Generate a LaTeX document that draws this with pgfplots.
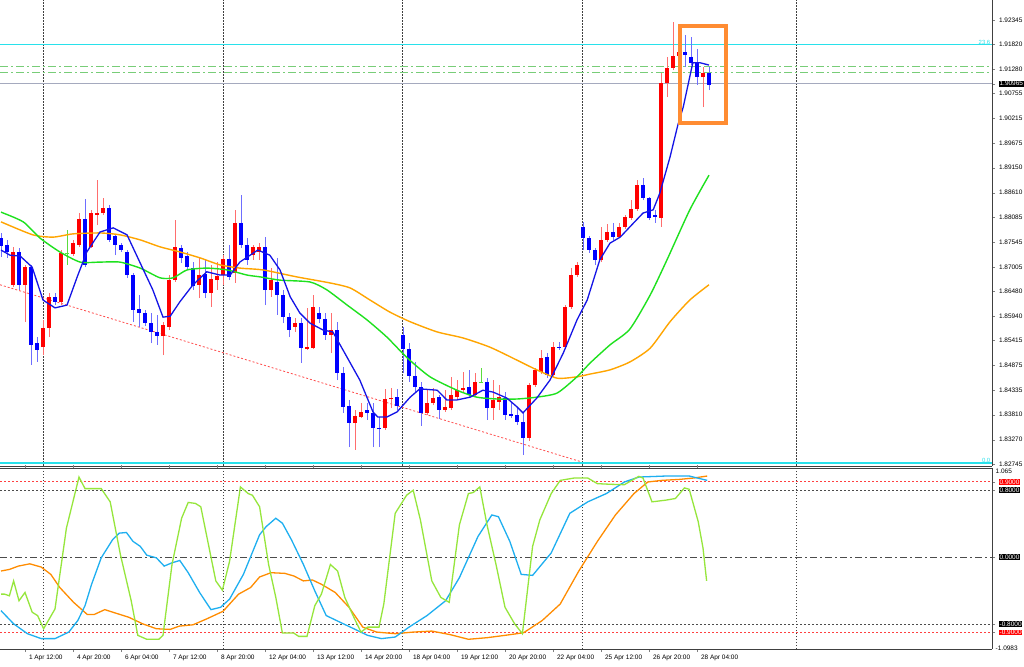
\documentclass[border=0pt]{standalone}
\usepackage{pgfplots}
\pgfplotsset{compat=1.18}
\usepackage{pgfplotstable}
\usepackage{fontspec}
\setmainfont{Liberation Sans}

\definecolor{bull}{RGB}{255,0,0}
\definecolor{bear}{RGB}{0,0,255}
\definecolor{bullwick}{RGB}{255,110,110}
\definecolor{bearwick}{RGB}{110,110,255}
\definecolor{doji}{RGB}{90,220,60}
\definecolor{maBlue}{RGB}{20,20,230}
\definecolor{maGreen}{RGB}{30,225,30}
\definecolor{maOrange}{RGB}{255,165,0}
\definecolor{fibo}{RGB}{40,225,235}
\definecolor{fiboGreen}{RGB}{120,205,120}
\definecolor{priceLine}{RGB}{165,170,190}
\definecolor{oscGreen}{RGB}{150,230,60}
\definecolor{oscBlue}{RGB}{30,175,240}
\definecolor{oscOrange}{RGB}{255,140,0}
\definecolor{boxOrange}{RGB}{255,140,50}

\newcommand\lbl[2]{{\setlength\fboxsep{0.6bp}\colorbox{#1}{\textcolor{white}{#2}}}}

% H4 candles, k = bar number
\pgfplotstableread{
k o h l c
2 1.8662 1.8744 1.8657 1.8733
4 1.8662 1.8705 1.8582 1.8700
7 1.8527 1.8586 1.8510 1.8569
8 1.8569 1.8644 1.8549 1.8636
10 1.8625 1.8737 1.8618 1.8731
12 1.8729 1.8759 1.8724 1.8752
13 1.8748 1.8817 1.8744 1.8804
15 1.8744 1.8824 1.8742 1.8817
16 1.8813 1.8889 1.8791 1.8817
17 1.8817 1.8850 1.8813 1.8828
27 1.8551 1.8582 1.8510 1.8575
28 1.8571 1.8683 1.8564 1.8672
29 1.8672 1.8802 1.8668 1.8744
33 1.8662 1.8722 1.8633 1.8683
35 1.8644 1.8705 1.8614 1.8674
36 1.8672 1.8711 1.8651 1.8681
37 1.8683 1.8726 1.8662 1.8718
39 1.8687 1.8824 1.8666 1.8796
42 1.8726 1.8748 1.8716 1.8744
43 1.8733 1.8752 1.8716 1.8744
45 1.8651 1.8698 1.8636 1.8672
49 1.8571 1.8590 1.8560 1.8579
51 1.8523 1.8612 1.8521 1.8527
52 1.8525 1.8640 1.8523 1.8614
55 1.8553 1.8601 1.8514 1.8564
59 1.8363 1.8391 1.8305 1.8378
60 1.8376 1.8406 1.8374 1.8387
64 1.8352 1.8437 1.8348 1.8415
65 1.8415 1.8439 1.8396 1.8417
71 1.8385 1.8434 1.8380 1.8406
72 1.8406 1.8439 1.8402 1.8417
74 1.8391 1.8434 1.8387 1.8398
75 1.8396 1.8463 1.8391 1.8424
76 1.8419 1.8456 1.8413 1.8434
77 1.8434 1.8473 1.8430 1.8439
79 1.8424 1.8471 1.8419 1.8452
82 1.8396 1.8456 1.8370 1.8413
83 1.8409 1.8445 1.8391 1.8419
88 1.8331 1.8450 1.8324 1.8445
89 1.8445 1.8482 1.8441 1.8478
90 1.8473 1.8521 1.8469 1.8504
92 1.8467 1.8538 1.8463 1.8527
94 1.8527 1.8618 1.8523 1.8614
95 1.8614 1.8698 1.8610 1.8683
96 1.8683 1.8711 1.8679 1.8705
100 1.8716 1.8787 1.8711 1.8759
101 1.8759 1.8793 1.8755 1.8776
103 1.8765 1.8796 1.8763 1.8787
104 1.8787 1.8813 1.8783 1.8809
105 1.8806 1.8845 1.8802 1.8826
106 1.8826 1.8889 1.8822 1.8878
110 1.8806 1.9120 1.8787 1.9098
111 1.9098 1.9155 1.9068 1.9131
112 1.9131 1.9230 1.9126 1.9157
113 1.9157 1.9213 1.9152 1.9165
117 1.9111 1.9133 1.9046 1.9120
}\bulltab

\pgfplotstableread{
k o h l c
0 1.8763 1.8774 1.8722 1.8746
1 1.8748 1.8759 1.8720 1.8733
3 1.8733 1.8742 1.8651 1.8662
5 1.8700 1.8705 1.8489 1.8532
6 1.8536 1.8549 1.8495 1.8521
9 1.8636 1.8644 1.8618 1.8625
14 1.8804 1.8847 1.8700 1.8705
18 1.8828 1.8834 1.8755 1.8759
19 1.8767 1.8772 1.8726 1.8748
20 1.8748 1.8752 1.8733 1.8737
21 1.8733 1.8737 1.8677 1.8683
22 1.8683 1.8687 1.8582 1.8607
23 1.8610 1.8640 1.8571 1.8601
24 1.8601 1.8607 1.8573 1.8579
25 1.8579 1.8601 1.8536 1.8560
26 1.8560 1.8597 1.8532 1.8551
30 1.8742 1.8748 1.8709 1.8720
31 1.8724 1.8733 1.8694 1.8700
32 1.8698 1.8711 1.8651 1.8659
34 1.8685 1.8716 1.8633 1.8644
38 1.8718 1.8748 1.8672 1.8679
40 1.8796 1.8856 1.8742 1.8748
41 1.8748 1.8763 1.8705 1.8716
44 1.8744 1.8765 1.8618 1.8651
46 1.8668 1.8720 1.8597 1.8640
47 1.8640 1.8651 1.8579 1.8592
48 1.8592 1.8601 1.8549 1.8564
50 1.8579 1.8590 1.8493 1.8525
53 1.8601 1.8614 1.8579 1.8588
54 1.8588 1.8601 1.8543 1.8553
56 1.8564 1.8582 1.8456 1.8471
57 1.8471 1.8484 1.8385 1.8398
58 1.8400 1.8413 1.8311 1.8363
61 1.8391 1.8406 1.8370 1.8385
62 1.8385 1.8406 1.8311 1.8352
63 1.8352 1.8376 1.8311 1.8350
66 1.8419 1.8437 1.8391 1.8400
67 1.8553 1.8571 1.8471 1.8523
68 1.8523 1.8536 1.8452 1.8465
69 1.8465 1.8495 1.8430 1.8441
70 1.8441 1.8452 1.8357 1.8385
73 1.8419 1.8424 1.8372 1.8391
78 1.8441 1.8478 1.8419 1.8424
81 1.8452 1.8460 1.8370 1.8396
84 1.8417 1.8430 1.8370 1.8380
85 1.8383 1.8406 1.8374 1.8378
86 1.8380 1.8396 1.8359 1.8365
87 1.8365 1.8385 1.8294 1.8331
91 1.8506 1.8514 1.8460 1.8467
93 1.8527 1.8538 1.8521 1.8525
97 1.8787 1.8798 1.8737 1.8763
98 1.8763 1.8767 1.8731 1.8737
99 1.8737 1.8742 1.8705 1.8716
102 1.8776 1.8796 1.8759 1.8765
107 1.8878 1.8893 1.8845 1.8850
108 1.8850 1.8852 1.8802 1.8806
109 1.8813 1.8824 1.8796 1.8809
114 1.9165 1.9202 1.9133 1.9159
115 1.9155 1.9198 1.9137 1.9142
116 1.9142 1.9172 1.9094 1.9111
118 1.9120 1.9133 1.9083 1.9094
}\beartab

\pgfplotstableread{
k o h l c
11 1.8731 1.8780 1.8705 1.8731
80 1.8452 1.8482 1.8450 1.8452
}\dojitab

% one wick and one body per row of a candle table
\newcommand\candles[3]{%
  \pgfplotstablegetrowsof{#1}%
  \pgfmathtruncatemacro\nrows{\pgfplotsretval-1}%
  \pgfplotsforeachungrouped \i in {0,...,\nrows}{%
    \pgfplotstablegetelem{\i}{k}\of#1\let\ck\pgfplotsretval
    \pgfplotstablegetelem{\i}{o}\of#1\let\co\pgfplotsretval
    \pgfplotstablegetelem{\i}{h}\of#1\let\ch\pgfplotsretval
    \pgfplotstablegetelem{\i}{l}\of#1\let\cl\pgfplotsretval
    \pgfplotstablegetelem{\i}{c}\of#1\let\cc\pgfplotsretval
    \edef\next{\noexpand\addplot[#2, line width=1bp, forget plot] coordinates {(\ck,\cl) (\ck,\ch)};%
      \noexpand\addplot[#3, line width=3.6bp, forget plot] coordinates {(\ck,\co) (\ck,\cc)};}%
    \next
  }%
}

\tikzset{sep/.style={dash pattern=on 1.5bp off 1.5bp, black!75, line width=0.8bp}}
\pgfplotsset{
  mt/.style={scale only axis, width=992bp, xmin=-0.167, xmax=165.167,
    tick label style={font=\fontsize{6.5}{7}\selectfont},
    tick align=outside, major tick length=3bp,
    axis line style={black!75, line width=0.8bp}},
}

\begin{document}
\begin{tikzpicture}[x=1bp,y=1bp]
\fill[white] (0,0) rectangle (1024,667);
\clip (0,0) rectangle (1024,667);
% absolute corners of the two windows
\coordinate (mainSW) at (0,201);
\coordinate (subSW) at (0,17.8);

% ---------------- price window ----------------
\begin{axis}[mt, name=main, at={(mainSW)}, anchor=south west, height=466bp,
  y coord trafo/.code={\pgfmathparse{(#1-1.8774)*20}},
  y coord inv trafo/.code={\pgfmathparse{#1/20+1.8774}},
  ymin=1.82701, ymax=1.92777,
  axis x line*=bottom, axis y line*=right,
  xtick=\empty,
  extra x ticks={7,37,66.85,96.85,132.5}, extra x tick labels={},
  extra x tick style={grid=major, major grid style={sep}, tick style={draw=none}},
  ytick={1.82745,1.83270,1.83810,1.84335,1.84875,1.85415,1.85940,1.86480,1.87005,1.87545,1.88085,1.88610,1.89150,1.89675,1.90215,1.90755,1.90965,1.91280,1.91820,1.92345},
  yticklabels={1.82745,1.83270,1.83810,1.84335,1.84875,1.85415,1.85940,1.86480,1.87005,1.87545,1.88085,1.88610,1.89150,1.89675,1.90215,1.90755,{\lbl{black}{1.90965}},1.91280,1.91820,1.92345},
  yticklabel style={anchor=west, xshift=0.5bp},
]
\addplot[fibo, line width=1bp] coordinates {(-0.167,1.91804) (165.167,1.91804)};
\addplot[fibo, line width=2bp] coordinates {(-0.167,1.82766) (165.167,1.82766)};
\addplot[fiboGreen, line width=0.9bp, dash pattern=on 8bp off 3bp on 2bp off 3bp] coordinates {(-0.167,1.9135) (165.167,1.9135)};
\addplot[fiboGreen, line width=0.9bp, dash pattern=on 8bp off 3bp on 2bp off 3bp] coordinates {(-0.167,1.9122) (165.167,1.9122)};
\addplot[priceLine, line width=1bp] coordinates {(-0.167,1.90965) (165.167,1.90965)};
\addplot[red!70, line width=0.8bp, dash pattern=on 2bp off 2bp] coordinates {(-0.167,1.8662) (96.5,1.8280)};

\candles{\bulltab}{bullwick}{bull}
\candles{\beartab}{bearwick}{bear}
\candles{\dojitab}{doji}{doji}
\addplot[only marks, mark=-, mark size=1.8bp, doji] table[x=k, y=c] {\dojitab};

\addplot[maOrange, line width=1.4bp, smooth, tension=0.4] coordinates {
(0,1.8798) (5.3,1.8770) (8.7,1.8765) (12,1.8772) (16.5,1.8774) (19.8,1.8770)
(23.2,1.8759) (26.5,1.8744) (29.8,1.8733) (33.2,1.8720) (36.5,1.8705) (39.8,1.8698)
(43.7,1.8694) (49.3,1.8679) (54.8,1.8666) (58.2,1.8655) (61.5,1.8629) (64.8,1.8603)
(68.2,1.8582) (72.7,1.8560) (77,1.8547) (81.5,1.8527) (86,1.8499) (89.3,1.8478)
(92.7,1.8460) (96,1.8463) (98.2,1.8469) (101.5,1.8478) (104.8,1.8495) (108.2,1.8525)
(111.5,1.8582) (114.8,1.8629) (118,1.8662)};
\addplot[maGreen, line width=1.4bp, smooth, tension=0.4] coordinates {
(0,1.8819) (3.7,1.8798) (6.5,1.8763) (9.8,1.8733) (13.2,1.8711) (16.5,1.8711)
(19.8,1.8711) (23.2,1.8698) (26.5,1.8677) (28.7,1.8677) (31,1.8694) (34.3,1.8698)
(37.7,1.8694) (41,1.8683) (43.2,1.8679) (46.5,1.8672) (51.5,1.8668) (54.3,1.8651)
(57.7,1.8618) (61,1.8586) (64.3,1.8549) (67.7,1.8504) (71.5,1.8463) (76,1.8434)
(79.3,1.8419) (82.7,1.8415) (86,1.8415) (89.3,1.8419) (92.7,1.8428) (96,1.8463)
(98.2,1.8493) (101.5,1.8532) (104.8,1.8566) (108.2,1.8640) (111,1.8716)
(114.8,1.8824) (118,1.8899)};
\addplot[maBlue, line width=1.3bp] coordinates {
(0,1.8737) (1.5,1.8726) (3.2,1.8724) (5.2,1.8700) (7,1.8629) (9,1.8612) (11,1.8618)
(12.7,1.8679) (14.3,1.8733) (16.5,1.8776) (18.7,1.8785) (21,1.8770) (23.2,1.8709)
(25.3,1.8651) (27,1.8592) (28.2,1.8594) (29.8,1.8625) (32,1.8662) (34.3,1.8690)
(36.5,1.8683) (38.2,1.8683) (39.8,1.8711) (42.8,1.8737) (44.8,1.8726) (46.5,1.8694)
(48.2,1.8636) (49.8,1.8601) (51.5,1.8579) (53.7,1.8564) (55.3,1.8560) (57,1.8521)
(59.8,1.8456) (62,1.8387) (62.8,1.8376) (64.3,1.8376) (66,1.8387) (68.2,1.8419)
(69.8,1.8437) (72.7,1.8434) (74.3,1.8413) (76,1.8413) (78.2,1.8419) (80.3,1.8434)
(82,1.8430) (84.3,1.8417) (86,1.8398) (87,1.8385) (89.3,1.8417) (91.5,1.8456)
(93.7,1.8514) (96,1.8586) (97.7,1.8629) (99.8,1.8716) (101.5,1.8752) (103.2,1.8765)
(104.8,1.8787) (107,1.8817) (108.7,1.8824) (109.8,1.8860) (111.5,1.8938)
(112.8,1.9007) (113.7,1.9046) (115.3,1.9142) (116.5,1.9142) (118,1.9137)};
\draw[boxOrange, line width=3.5bp] (axis cs:113.2,1.92215) rectangle (axis cs:120.8,1.90118);
\node[fibo, font=\fontsize{6}{7}\selectfont, anchor=south east, inner sep=0.5bp] at (axis cs:165,1.91804) {23.6};
\node[fibo, font=\fontsize{6}{7}\selectfont, anchor=south east, inner sep=0.5bp] at (axis cs:165,1.82766) {0.0};
\end{axis}

% ---------------- oscillator window ----------------
\begin{axis}[mt, name=sub, at={(subSW)}, anchor=south west, height=181.2bp,
  ymin=-1.0983, ymax=1.065,
  axis x line*=box, axis y line*=right,
  xtick={-4,4,12,20,28,36,44,52,60,68,76,84,92,100,108,116},
  xticklabels={31 Mar 04:00,1 Apr 12:00,4 Apr 20:00,6 Apr 04:00,7 Apr 12:00,8 Apr 20:00,12 Apr 04:00,13 Apr 12:00,14 Apr 20:00,18 Apr 04:00,19 Apr 12:00,20 Apr 20:00,22 Apr 04:00,25 Apr 12:00,26 Apr 20:00,28 Apr 04:00},
  xticklabel style={anchor=north west, xshift=0.5bp, yshift=1bp},
  extra x ticks={7,37,66.85,96.85,132.5}, extra x tick labels={},
  extra x tick style={grid=major, major grid style={sep}, tick style={draw=none}},
  ytick={-0.9,-0.8,0,0.8,0.9},
  yticklabels={{\lbl{red}{-0.9000}},{\lbl{black}{-0.8000}},{\lbl{black}{0.0000}},{\lbl{black}{0.8000}},{\lbl{red}{0.9000}}},
  yticklabel style={anchor=west, xshift=0.5bp},
]
\addplot[red!75, line width=0.8bp, dash pattern=on 2bp off 2bp] coordinates {(-0.167,0.9) (165.167,0.9)};
\addplot[red!75, line width=0.8bp, dash pattern=on 2bp off 2bp] coordinates {(-0.167,-0.9) (165.167,-0.9)};
\addplot[black!70, line width=0.8bp, dash pattern=on 2bp off 2bp] coordinates {(-0.167,0.8) (165.167,0.8)};
\addplot[black!70, line width=0.8bp, dash pattern=on 2bp off 2bp] coordinates {(-0.167,-0.8) (165.167,-0.8)};
\addplot[black!70, line width=0.8bp, dash pattern=on 7bp off 3bp on 2bp off 3bp] coordinates {(-0.167,0) (165.167,0)};

\addplot[oscOrange, line width=1.3bp] coordinates {
(0,-0.165) (1.4,-0.146) (2.9,-0.106) (4.8,-0.079) (6.7,-0.118) (8.3,-0.205) (9.8,-0.362)
(12.1,-0.539) (14.4,-0.685) (15.5,-0.685) (17.3,-0.626) (19,-0.665) (21.3,-0.717)
(23.6,-0.795) (25.9,-0.854) (28.2,-0.862) (29.7,-0.823) (32,-0.807) (34.3,-0.736)
(37,-0.646) (39.6,-0.441) (41.6,-0.362) (43.1,-0.236) (45,-0.185) (47.3,-0.193)
(48.8,-0.224) (50.4,-0.283) (51.9,-0.272) (53.4,-0.323) (55.7,-0.421) (58,-0.598)
(60.3,-0.835) (62.6,-0.894) (65.7,-0.913) (68.7,-0.894) (71.8,-0.882) (74.9,-0.925)
(77.9,-0.980) (81,-0.961) (84,-0.933) (87.1,-0.902) (90.2,-0.756) (93.2,-0.559)
(96.3,-0.165) (99.4,0.189) (102.4,0.504) (105.5,0.760) (107.8,0.898) (110.1,0.917)
(113.1,0.929) (115.4,0.945) (117.7,0.969)};
\addplot[oscBlue, line width=1.3bp] coordinates {
(0,-0.638) (2.1,-0.795) (4.4,-0.913) (6.7,-0.972) (9,-0.972) (11.3,-0.894) (12.8,-0.756)
(14,-0.579) (15.1,-0.323) (16.7,-0.008) (18.6,0.209) (19.7,0.287) (20.9,0.295)
(22,0.189) (23.2,0.130) (24.3,0.024) (25.9,-0.008) (27.2,-0.106) (28.5,-0.067)
(29.8,-0.039) (31.2,-0.185) (33.1,-0.421) (35,-0.626) (36.6,-0.598) (38.1,-0.5)
(40.4,-0.205) (43.1,0.268) (44.2,0.366) (45.8,0.465) (46.9,0.406) (48.4,0.209)
(50.4,-0.087) (52.3,-0.402) (54.2,-0.697) (56.5,-0.776) (58.8,-0.854) (61.1,-0.933)
(63.4,-0.972) (65.7,-0.953) (68,-0.835) (71,-0.697) (74.1,-0.520) (76.4,-0.244)
(79.5,0.248) (81.8,0.504) (82.9,0.484) (84.8,0.189) (86.7,-0.205) (88.6,-0.217)
(91.7,0.051) (94.8,0.524) (97.8,0.661) (100.9,0.760) (103.9,0.898) (106.3,0.957)
(110.8,0.969) (114.7,0.969) (117.7,0.917)};
\addplot[oscGreen, line width=1.3bp] coordinates {
(0,-0.441) (0.6,-0.441) (1.4,-0.461) (2.1,-0.283) (3,-0.520) (4,-0.421) (5.2,-0.657)
(6.1,-0.697) (7.1,-0.854) (9,-0.618) (10.9,0.346) (13,0.957) (14,0.819) (16.7,0.819)
(18.2,0.661) (19.9,0.031) (21.7,-0.520) (22.8,-0.933) (24.3,-0.980) (26.3,-0.980)
(27,-0.933) (28.5,-0.087) (30.1,0.465) (31.2,0.654) (32.4,0.642) (33.3,0.602)
(35.8,-0.283) (36.9,-0.394) (38.1,-0.047) (39.9,0.839) (41.2,0.760) (41.9,0.740)
(43.1,0.602) (44.6,-0.087) (45.8,-0.480) (46.9,-0.906) (48.8,-0.906) (49.6,-0.945)
(51,-0.945) (52.3,-0.579) (53.4,-0.441) (54.9,-0.087) (56.1,-0.165) (57.3,-0.480)
(58.8,-0.717) (60,-0.894) (61.1,-0.835) (63,-0.835) (63.8,-0.559) (65.7,0.524)
(67.6,0.740) (68.7,0.799) (69.9,0.445) (71.8,-0.283) (73.3,-0.480) (74.7,-0.539)
(76.4,0.386) (77.9,0.760) (78.7,0.772) (79.8,0.839) (81,0.386) (82.5,-0.087)
(84,-0.598) (85.6,-0.795) (86.9,-0.913) (88.6,0.130) (89.8,0.445) (91.7,0.760)
(93.2,0.917) (95.5,0.945) (97.8,0.945) (99.4,0.878) (101.7,0.870) (103.9,0.866)
(106.3,0.965) (107,0.945) (108.5,0.661) (110.8,0.681) (112.4,0.701) (113.9,0.827)
(114.7,0.811) (116.2,0.425) (117,0.110) (117.6,-0.283)};
\end{axis}
\node[anchor=north west, font=\fontsize{6.5}{7}\selectfont, inner sep=0.5bp] at ([xshift=3bp]sub.north east) {1.065};
\node[anchor=south west, font=\fontsize{6.5}{7}\selectfont, inner sep=0.5bp] at ([xshift=3bp,yshift=-2bp]sub.south east) {-1.0983};
\end{tikzpicture}
\end{document}
